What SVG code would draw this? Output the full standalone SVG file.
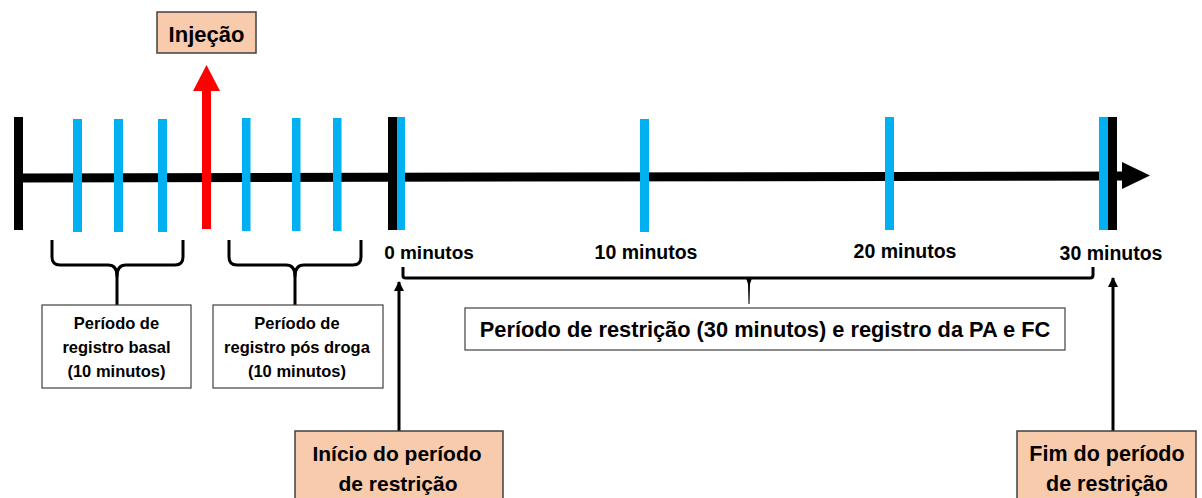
<svg xmlns="http://www.w3.org/2000/svg" width="1202" height="498" viewBox="0 0 1202 498">
<defs>
<style>
.t{font-family:"Liberation Sans",Arial,sans-serif;font-weight:bold;fill:#000;text-anchor:middle}
.blue{fill:#00B0F0}
.blk{fill:#000}
.peach{fill:#F8CBAD;stroke:#404040;stroke-width:1.5}
.wbox{fill:#fff;stroke:#404040;stroke-width:1.2}
.brace{fill:none;stroke:#000;stroke-width:3;stroke-linejoin:round}
.conn{fill:none;stroke:#000;stroke-width:3}
</style>
<marker id="ah" viewBox="0 0 10 10" refX="9" refY="5" markerWidth="3.4" markerHeight="3.4" orient="auto">
<path d="M0,0 L10,5 L0,10 Z" fill="#000"/>
</marker>
</defs>
<rect width="1202" height="498" fill="#fff"/>

<g id="timeline">
<line x1="18" y1="178" x2="1126" y2="176" stroke="#000" stroke-width="9"/>
<polygon points="1122,162 1150,175.5 1122,189" fill="#000"/>
<rect class="blk" x="14" y="117" width="9" height="113"/>
<rect class="blue" x="73" y="119" width="9" height="113"/>
<rect class="blue" x="114" y="119" width="9" height="113"/>
<rect class="blue" x="158" y="119" width="9" height="113"/>
<rect class="blue" x="242" y="118" width="8.5" height="113"/>
<rect class="blue" x="292" y="118" width="8.5" height="113"/>
<rect class="blue" x="333" y="118" width="8.5" height="113"/>
<rect class="blk" x="388" y="117" width="9" height="113"/>
<rect class="blue" x="397" y="117" width="8" height="113"/>
<rect class="blue" x="640" y="119" width="9" height="113"/>
<rect class="blue" x="885" y="117" width="9" height="113"/>
<rect class="blue" x="1099" y="117" width="9" height="113"/>
<rect class="blk" x="1108" y="117" width="9" height="113"/>
<text class="t" x="429" y="259" font-size="19">0 minutos</text>
<text class="t" x="646" y="259" font-size="19.5">10 minutos</text>
<text class="t" x="905" y="258" font-size="19.5">20 minutos</text>
<text class="t" x="1111" y="260" font-size="19.5">30 minutos</text>
</g>

<g id="injecao">
<rect x="202" y="90" width="9" height="139" fill="#FF0000"/>
<polygon points="193,91 206.5,65 220,91" fill="#FF0000"/>
<rect class="peach" x="157" y="12" width="99" height="41"/>
<text class="t" x="206.5" y="42" font-size="22">Injeção</text>
</g>

<g id="connectors">
<path class="brace" d="M52,240 V257 Q52,265 60,265 H108 Q117,265 117,276 Q117,265 126,265 H175 Q183,265 183,257 V240"/>
<line class="conn" x1="117" y1="270" x2="117" y2="305"/>
<path class="brace" d="M229,240 V257 Q229,265 237,265 H286 Q295,265 295,276 Q295,265 304,265 H353 Q361,265 361,257 V240"/>
<line class="conn" x1="295" y1="270" x2="295" y2="305"/>
<path class="brace" stroke-width="2.5" d="M403,267 V276 Q403,278 406,278 H1090 Q1093,278 1093,275 V267"/>
<path d="M746,278 L752,278 L750,284 L749.5,304 L748.5,304 L748,284 Z" fill="#000"/>
<line class="conn" x1="399" y1="432" x2="399" y2="282" marker-end="url(#ah)"/>
<line class="conn" x1="1113" y1="432" x2="1113" y2="278" marker-end="url(#ah)"/>
</g>

<g id="basal">
<rect class="wbox" x="42" y="305" width="149" height="83"/>
<text class="t" x="116.5" y="329" font-size="16.5">Período de</text>
<text class="t" x="116.5" y="353" font-size="16.5">registro basal</text>
<text class="t" x="116.5" y="377" font-size="16.5">(10 minutos)</text>
</g>

<g id="posdroga">
<rect class="wbox" x="213" y="305" width="170" height="83"/>
<text class="t" x="297" y="329" font-size="16.5">Período de</text>
<text class="t" x="297" y="353" font-size="16.5">registro pós droga</text>
<text class="t" x="297" y="377" font-size="16.5">(10 minutos)</text>
</g>

<g id="restricao">
<rect class="wbox" x="465" y="308" width="600" height="42"/>
<text class="t" x="765" y="337" font-size="21.8">Período de restrição (30 minutos) e registro da PA e FC</text>
</g>

<g id="inicio">
<rect class="peach" x="295" y="431" width="208" height="80"/>
<text class="t" x="397" y="461" font-size="21">Início do período</text>
<text class="t" x="398" y="491" font-size="21">de restrição</text>
</g>

<g id="fim">
<rect class="peach" x="1017" y="431" width="179" height="80"/>
<text class="t" x="1107" y="461" font-size="21.5">Fim do período</text>
<text class="t" x="1107" y="491" font-size="21.5">de restrição</text>
</g>
</svg>
